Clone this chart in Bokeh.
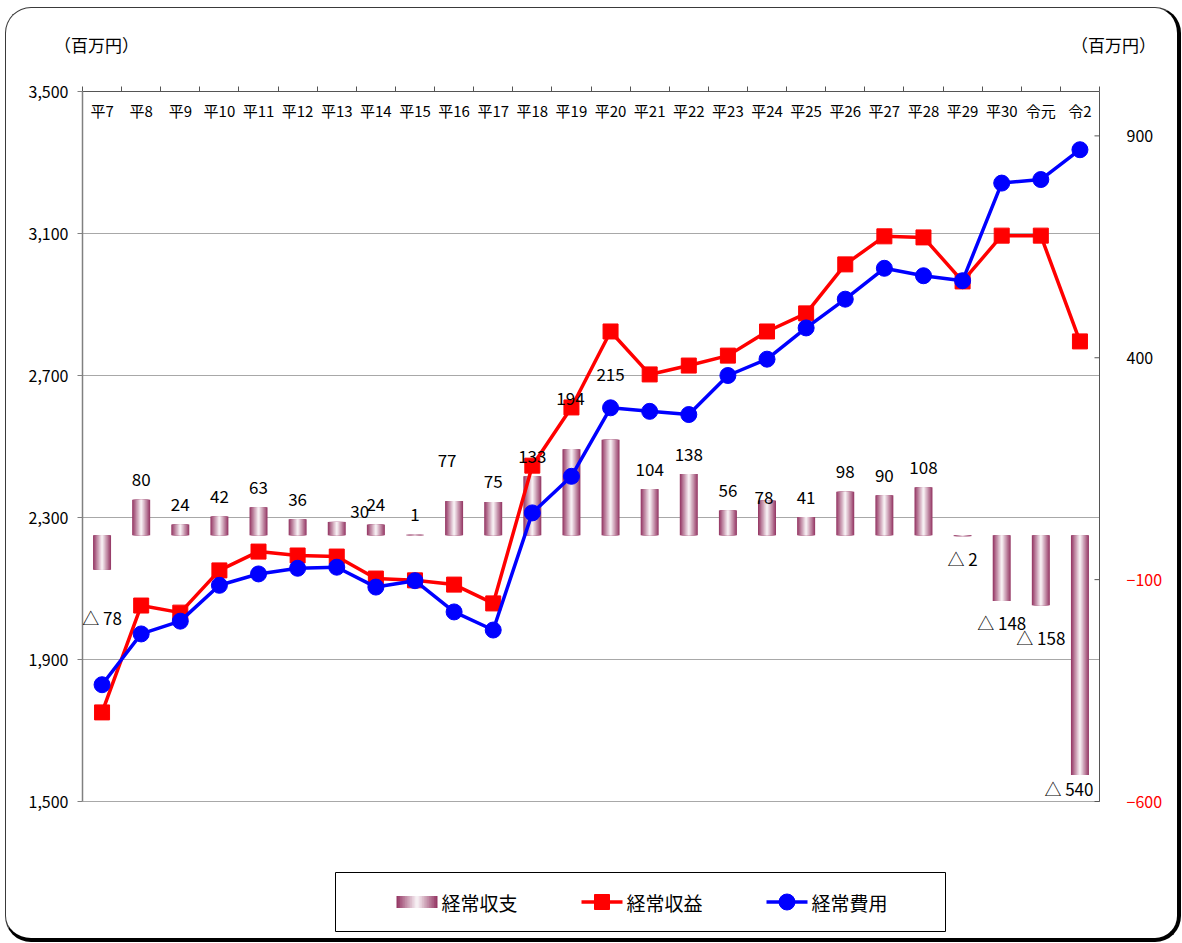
from bokeh.plotting import figure
from bokeh.models import (Range1d, FixedTicker, NumeralTickFormatter,
                          ColumnDataSource, LabelSet, Div)
from bokeh.layouts import column
from bokeh.embed import file_html
from bokeh.resources import INLINE
from bokeh.core.properties import value

# ---- data (百万円) ----
years = ["平7", "平8", "平9", "平10", "平11", "平12", "平13", "平14", "平15",
         "平16", "平17", "平18", "平19", "平20", "平21", "平22", "平23", "平24",
         "平25", "平26", "平27", "平28", "平29", "平30", "令元", "令2"]
revenue = [1751, 2052, 2032, 2151, 2204, 2193, 2190, 2128, 2123, 2111, 2058,
           2446, 2610, 2824, 2703, 2728, 2756, 2824, 2875, 3013, 3092, 3089,
           2965, 3094, 3094, 2796]
expense = [1829, 1972, 2008, 2109, 2141, 2157, 2160, 2104, 2122, 2034, 1983,
           2313, 2416, 2609, 2599, 2590, 2700, 2746, 2834, 2915, 3002, 2981,
           2967, 3242, 3252, 3336]
balance = [-78, 80, 24, 42, 63, 36, 30, 24, 1, 77, 75, 133, 194, 215, 104,
           138, 56, 78, 41, 98, 90, 108, -2, -148, -158, -540]

left_ticks = [1500, 1900, 2300, 2700, 3100, 3500]
right_ticks = [-600, -100, 400, 900]
right_limits = (-600, 1000)
series_names = ["経常収支", "経常収益", "経常費用"]
unit_caption = "（百万円）"

# ---- styling / layout ----
FONT = "Noto Sans CJK JP"
EDGE = (150, 58, 102)
RED = "#FF0000"
BLUE = "#0000FF"
AXIS_GREY = "#555555"
W = 1171                      # inner width of the rounded panel
CAP_H = 50                    # caption strip height
H_LEG = 78
BORDER_L, BORDER_T = 76, 33   # space left of / above the plotting area
PLOT_W, PLOT_H = 1017, 710    # size of the plotting area proper
PAD_B = 20                    # room under the plotting area for the lowest right label
BORDER_B = 39
H_MAIN = BORDER_T + PLOT_H + PAD_B + BORDER_B
BAR_W = 0.46
LAYERS = 12
TICK = 5

# hand-placed value labels: (dx right, dy up) in pixels
label_nudge = {"平7": (0, -26), "平13": (23, -10), "平16": (-7, 21),
               "平19": (-1, 31), "平20": (0, 45), "平24": (-3, -17),
               "令元": (0, -10), "令2": (-11, 8)}


def shade(t):
    r, g, b = (round(255 + (c - 255) * t) for c in EDGE)
    return f"#{r:02x}{g:02x}{b:02x}"


n = len(years)
xs = list(range(n))
x_lo, x_hi = -0.5, n - 0.5
x_per_px = n / PLOT_W
frame_w = W - BORDER_L
# the frame runs on to the right edge so the right-hand scale labels sit inside it
x_range = Range1d(x_lo, x_lo + frame_w * x_per_px)
l_per_px = (left_ticks[-1] - left_ticks[0]) / PLOT_H
r_per_px = (right_limits[1] - right_limits[0]) / PLOT_H
y_range = Range1d(left_ticks[0] - PAD_B * l_per_px, left_ticks[-1])
bal_range = Range1d(right_limits[0] - PAD_B * r_per_px, right_limits[1])

p = figure(width=W, height=H_MAIN, x_range=x_range, y_range=y_range,
           x_axis_location="above", output_backend="svg", toolbar_location=None,
           min_border_left=BORDER_L, min_border_right=0,
           min_border_top=BORDER_T, min_border_bottom=BORDER_B)
p.extra_y_ranges = {"bal": bal_range}
p.outline_line_color = None
p.border_fill_color = None
p.background_fill_color = None
p.grid.visible = False

# category axis along the top: ticks between the years
top_ticks = [i - 0.5 for i in range(n + 1)]
xa = p.xaxis[0]
xa.ticker = FixedTicker(ticks=top_ticks)
xa.bounds = (x_lo, x_hi)
xa.major_label_overrides = {t: "" for t in top_ticks}
xa.major_tick_out = TICK
xa.major_tick_in = 0
xa.minor_tick_out = 0
xa.minor_tick_in = 0
xa.axis_line_color = AXIS_GREY
xa.major_tick_line_color = AXIS_GREY

ya = p.yaxis[0]
ya.ticker = FixedTicker(ticks=left_ticks)
ya.bounds = (left_ticks[0], left_ticks[-1])
ya.formatter = NumeralTickFormatter(format="0,0")
ya.major_label_text_font = FONT
ya.major_label_text_font_size = "16px"
ya.major_label_text_color = "black"
ya.major_label_standoff = 9
ya.major_tick_out = TICK
ya.major_tick_in = 0
ya.minor_tick_out = 0
ya.minor_tick_in = 0
ya.axis_line_color = "#808080"
ya.axis_line_width = 1.5
ya.major_tick_line_color = "#808080"

# dotted value gridlines across the plotting area
p.segment(x0=x_lo, x1=x_hi, y0=left_ticks, y1=left_ticks, line_color="#505050",
          line_dash="1 1", line_width=1)

# right-hand 経常収支 scale: axis line with inward ticks
p.segment(x0=x_hi, x1=x_hi, y0=right_limits[0], y1=right_limits[1],
          y_range_name="bal", line_color=AXIS_GREY, line_width=1)
p.segment(x0=x_hi - TICK * x_per_px, x1=x_hi, y0=right_ticks, y1=right_ticks,
          y_range_name="bal", line_color=AXIS_GREY, line_width=1)

# 経常収支 bars, shaded from the edges towards a white centre
bar_src = ColumnDataSource(dict(x=xs, top=balance))
for k in range(LAYERS):
    frac = 1 - k / LAYERS
    p.vbar(x="x", top="top", bottom=0, width=BAR_W * frac, source=bar_src,
           y_range_name="bal", fill_color=shade(frac), line_color=None)

p.line(xs, revenue, line_color=RED, line_width=3.5)
p.scatter(xs, revenue, marker="square", size=15, fill_color=RED, line_color=RED)
p.line(xs, expense, line_color=BLUE, line_width=3.5)
p.scatter(xs, expense, marker="circle", size=16, fill_color=BLUE, line_color=BLUE)

# value labels on the bars
lbl_text, lbl_dx, lbl_dy = [], [], []
for yr, v in zip(years, balance):
    dx, dy = label_nudge.get(yr, (0, 0))
    lbl_text.append(str(v) if v >= 0 else f"△ {abs(v)}")
    lbl_dx.append(dx)
    lbl_dy.append((20 if v >= 0 else -22) + dy)
lbl_src = ColumnDataSource(dict(x=xs, y=balance, text=lbl_text, dx=lbl_dx, dy=lbl_dy))
p.add_layout(LabelSet(x="x", y="y", text="text", source=lbl_src, y_range_name="bal",
                      x_offset="dx", y_offset="dy", text_align="center",
                      text_baseline="middle", text_font=value(FONT),
                      text_font_size="17px", text_color="black"))

# year names just under the top axis
yr_src = ColumnDataSource(dict(x=xs, y=[left_ticks[-1]] * n, text=years))
p.add_layout(LabelSet(x="x", y="y", text="text", source=yr_src, y_offset=-19,
                      text_align="center", text_baseline="middle",
                      text_font=value(FONT), text_font_size="15px", text_color="black"))

# right-hand scale labels, negatives in red
rt_src = ColumnDataSource(dict(x=[x_hi] * len(right_ticks), y=right_ticks,
                               text=[f"{t:,}".replace("-", "−") for t in right_ticks],
                               color=["red" if t < 0 else "black" for t in right_ticks]))
p.add_layout(LabelSet(x="x", y="y", text="text", source=rt_src, y_range_name="bal",
                      x_offset=27, text_align="left", text_baseline="middle",
                      text_font=value(FONT), text_font_size="16px", text_color="color"))

# ---- unit captions above both value axes ----
span = ("position:absolute;top:26px;line-height:22px;white-space:nowrap;"
        f"font-family:'{FONT}';font-size:17px;color:#000;")
cap = Div(width=W, height=CAP_H,
          text=(f'<div style="position:relative;width:{W}px;height:{CAP_H}px;">'
                f'<span style="{span}left:48px;">{unit_caption}</span>'
                f'<span style="{span}left:1065px;">{unit_caption}</span></div>'),
          styles={"margin": "0", "padding": "0"})

# ---- legend strip (x in panel pixels, frame lined up with the chart above) ----
leg = figure(width=W, height=H_LEG, x_range=Range1d(BORDER_L, W),
             y_range=Range1d(H_LEG, 0), min_border_left=BORDER_L,
             min_border_right=0, min_border_top=0, min_border_bottom=0,
             output_backend="svg", toolbar_location=None)
leg.axis.visible = False
leg.grid.visible = False
leg.outline_line_color = None
leg.border_fill_color = None
leg.background_fill_color = None

box_l, box_t, box_w, box_h = 329, 12, 610, 59
pad, step, glyph_w, standoff = 61, 185, 41, 4
mid = box_t + box_h / 2
leg.quad(left=[box_l], right=[box_l + box_w], top=[box_t], bottom=[box_t + box_h],
         fill_color=None, line_color="black", line_width=1)

g0 = [box_l + pad + i * step for i in range(len(series_names))]
# shaded swatch
c0 = g0[0] + glyph_w / 2
for k in range(LAYERS):
    frac = 1 - k / LAYERS
    hw = glyph_w / 2 * frac
    leg.quad(left=[c0 - hw], right=[c0 + hw], top=[mid - 6], bottom=[mid + 6],
             fill_color=shade(frac), line_color=None)
# line swatches
for g, col, mk, sz in [(g0[1], RED, "square", 15), (g0[2], BLUE, "circle", 16)]:
    leg.line([g, g + glyph_w], [mid, mid], line_color=col, line_width=3.5)
    leg.scatter([g + glyph_w / 2], [mid], marker=mk, size=sz, fill_color=col, line_color=col)
leg.text(x=[g + glyph_w + standoff for g in g0], y=[mid] * 3, text=series_names,
         text_font=value(FONT), text_font_size="19px", text_align="left",
         text_baseline="middle", text_color="black")

layout = column(cap, p, leg, styles={
    "margin-left": "5px", "margin-top": "7px",
    "border-left": "1.5px solid #3a3a3a", "border-top": "1.5px solid #3a3a3a",
    "border-right": "4px solid #000", "border-bottom": "4px solid #000",
    "border-radius": "26px", "background": "white",
})

open("out.html", "w").write(file_html(layout, INLINE))
